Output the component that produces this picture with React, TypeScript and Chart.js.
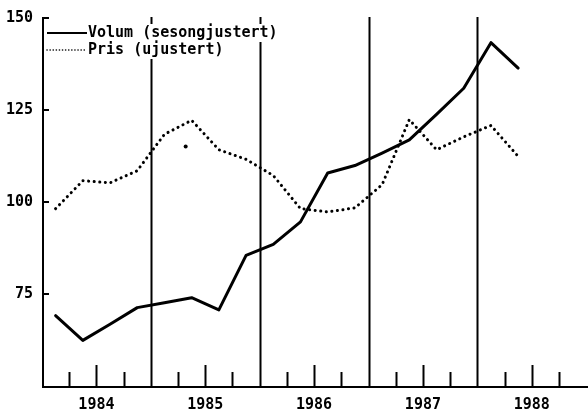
import React, { useEffect, useRef } from "react";
import { Chart, registerables } from "chart.js";

Chart.register(...registerables);

// Quarters (year, quarter number)
const quarterYears = [1984, 1984, 1984, 1984, 1985, 1985, 1985, 1985, 1986, 1986, 1986, 1986, 1987, 1987, 1987, 1987, 1988, 1988];
const quarterNums = [1, 2, 3, 4, 1, 2, 3, 4, 1, 2, 3, 4, 1, 2, 3, 4, 1, 2];

const volum = [69.1, 62.4, 66.8, 71.3, 72.6, 74.0, 70.7, 85.5, 88.5, 94.6, 107.9, 109.9, 113.3, 116.9, 123.8, 130.9, 143.3, 136.4];
const pris = [98.2, 105.8, 105.2, 108.5, 118.4, 122.2, 114.2, 111.6, 107.2, 98.2, 97.3, 98.4, 104.7, 122.4, 114.2, 117.7, 120.8, 112.4];

// isolated dot visible in the original (year position, value)
const strayDotX = [1985.32];
const strayDotY = [115.1];

const yearLabels = [1984, 1985, 1986, 1987, 1988];
const yTicks = [75, 100, 125, 150];
const legendLabels = ["Volum (sesongjustert)", "Pris (ujustert)"];

const FONT = '"DejaVu Sans Mono", monospace';

const decorPlugin = {
  id: "decor",
  beforeDatasetsDraw(chart: any) {
    const { ctx, chartArea, scales } = chart;
    const x = scales.x;
    const y = scales.y;
    const top = chartArea.top - 1;
    const bottom = chartArea.bottom;
    ctx.save();
    ctx.strokeStyle = "#000";
    ctx.lineCap = "butt";
    ctx.lineWidth = 2;
    for (let i = 1; i < yearLabels.length; i++) {
      const px = Math.round(x.getPixelForValue(yearLabels[i])) + 0.5;
      ctx.beginPath();
      ctx.moveTo(px, top);
      ctx.lineTo(px, bottom);
      ctx.stroke();
    }
    ctx.beginPath();
    ctx.moveTo(chartArea.left + 1, top);
    ctx.lineTo(chartArea.left + 1, bottom + 1);
    ctx.lineTo(chart.width, bottom + 1);
    ctx.stroke();
    for (const yr of yearLabels) {
      for (const q of [0.25, 0.5, 0.75]) {
        const px = Math.round(x.getPixelForValue(yr + q)) + 0.5;
        const len = q === 0.5 ? 21 : 14;
        ctx.beginPath();
        ctx.moveTo(px, bottom);
        ctx.lineTo(px, bottom - len);
        ctx.stroke();
      }
    }
    for (const v of yTicks) {
      const py = Math.round(y.getPixelForValue(v));
      ctx.beginPath();
      ctx.moveTo(chartArea.left, py);
      ctx.lineTo(chartArea.left + 7, py);
      ctx.stroke();
    }
    ctx.restore();
  },
  afterDatasetsDraw(chart: any) {
    const { ctx, chartArea } = chart;
    ctx.save();
    ctx.font = "bold 15px " + FONT;
    ctx.textBaseline = "middle";
    const sx0 = chartArea.left + 5;
    const sx1 = chartArea.left + 45;
    const tx = sx1 + 1;
    const rows = [33, 50];
    legendLabels.forEach((lab, i) => {
      const w = ctx.measureText(lab).width;
      ctx.fillStyle = "#fff";
      ctx.fillRect(sx0, rows[i] - 9, tx + w + 2 - sx0, 18);
    });
    legendLabels.forEach((lab, i) => {
      const ry = rows[i];
      ctx.strokeStyle = "#000";
      if (i === 0) {
        ctx.lineWidth = 2;
        ctx.setLineDash([]);
        ctx.lineCap = "butt";
      } else {
        ctx.lineWidth = 1.6;
        ctx.setLineDash([0.1, 3]);
        ctx.lineCap = "round";
      }
      ctx.beginPath();
      ctx.moveTo(sx0, ry);
      ctx.lineTo(sx1, ry);
      ctx.stroke();
      ctx.setLineDash([]);
      ctx.fillStyle = "#000";
      ctx.fillText(lab, tx, ry);
    });
    ctx.restore();
  },
};

export default function App() {
  const ref = useRef<HTMLCanvasElement | null>(null);
  useEffect(() => {
    document.body.style.margin = "0";
    const canvas = ref.current!;
    const xs = quarterYears.map((yr, i) => yr + (quarterNums[i] - 0.5) / 4);
    const chart = new Chart(canvas, {
      type: "line",
      data: {
        datasets: [
          {
            label: legendLabels[0],
            data: xs.map((x, i) => ({ x, y: volum[i] })),
            borderColor: "#000",
            borderWidth: 3,
            pointRadius: 0,
            tension: 0,
            borderJoinStyle: "round",
            borderCapStyle: "round",
          },
          {
            label: legendLabels[1],
            data: xs.map((x, i) => ({ x, y: pris[i] })),
            borderColor: "#000",
            borderWidth: 3,
            borderDash: [0.1, 5.5],
            borderCapStyle: "round",
            pointRadius: 0,
            tension: 0,
          },
          {
            label: "",
            data: strayDotX.map((x, i) => ({ x, y: strayDotY[i] })),
            showLine: false,
            pointRadius: 2,
            pointBorderWidth: 0,
            pointBackgroundColor: "#000",
          },
        ] as any,
      },
      options: {
        responsive: false,
        animation: false,
        layout: { padding: { top: 14, left: 0, right: 0, bottom: 0 } },
        plugins: { legend: { display: false }, tooltip: { enabled: false } },
        scales: {
          x: {
            type: "linear",
            min: 1984,
            max: 1988.98,
            grid: { display: false, drawTicks: false },
            border: { display: false },
            afterBuildTicks: (s: any) => {
              s.ticks = yearLabels.map((v) => ({ value: v + 0.5 }));
            },
            afterFit: (s: any) => {
              s.height = 27;
            },
            ticks: {
              autoSkip: false,
              maxRotation: 0,
              padding: 10,
              color: "#000",
              font: { family: FONT, size: 15, weight: "bold" },
              callback: (v: any) => String(Math.floor(Number(v))),
            },
          },
          y: {
            type: "linear",
            min: 50,
            max: 150,
            grid: { display: false, drawTicks: false },
            border: { display: false },
            afterBuildTicks: (s: any) => {
              s.ticks = yTicks.map((v) => ({ value: v }));
            },
            afterFit: (s: any) => {
              s.width = 42;
            },
            ticks: {
              padding: 9,
              color: "#000",
              font: { family: FONT, size: 15, weight: "bold" },
              callback: (v: any) => String(v),
            },
          },
        },
      } as any,
      plugins: [decorPlugin],
    });
    return () => chart.destroy();
  }, []);
  return <canvas ref={ref} width={588} height={413} style={{ display: "block" }} />;
}
